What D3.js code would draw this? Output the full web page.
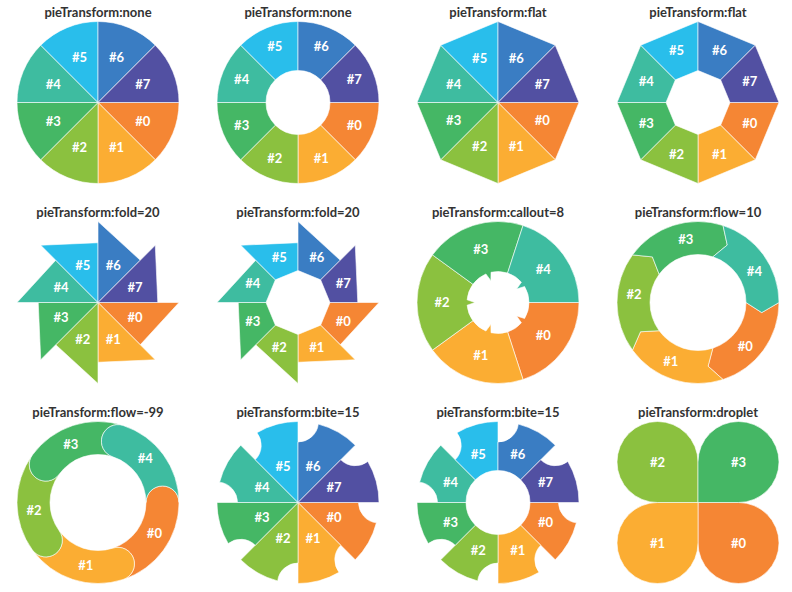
<!DOCTYPE html>
<html lang="en">
<head>
  <meta charset="UTF-8">
  <title>pieTransform</title>
  <script src="https://d3js.org/d3.v7.min.js"></script>
  <style>
    body { margin: 0; background: #fff; }
    .title { font-family: Lato, "Open Sans", sans-serif; font-weight: bold; font-size: 13px; fill: #333; text-anchor: middle; }
    .slice { stroke: #fff; stroke-opacity: 0.6; stroke-width: 1; stroke-linejoin: round; }
    .label { font-family: Lato, "Open Sans", sans-serif; font-weight: bold; font-size: 13px; fill: #fff; text-anchor: middle; }
  </style>
</head>
<body>
  <svg width="792" height="592"></svg>
  <script>
    // slice names and colours
    const categories = ["#0", "#1", "#2", "#3", "#4", "#5", "#6", "#7"];
    const palette = ["#F58634", "#FBAD33", "#8BC13F", "#45B765", "#3EBCA0", "#29BEEB", "#3A7DC3", "#5250A2"];

    // series values (all slices equal)
    const valuesEight = [1, 1, 1, 1, 1, 1, 1, 1];
    const valuesFive = [1, 1, 1, 1, 1];
    const valuesFour = [1, 1, 1, 1];

    const titles = [
      "pieTransform:none", "pieTransform:none", "pieTransform:flat", "pieTransform:flat",
      "pieTransform:fold=20", "pieTransform:fold=20", "pieTransform:callout=8", "pieTransform:flow=10",
      "pieTransform:flow=-99", "pieTransform:bite=15", "pieTransform:bite=15", "pieTransform:droplet"
    ];

    const R = 81;
    const deg = Math.PI / 180;

    // one entry per small chart: shape type, hole and label radius
    const charts = [
      { values: valuesEight, type: "none",    ri: 0,  lr: 48.5 },
      { values: valuesEight, type: "none",    ri: 32, lr: 61 },
      { values: valuesEight, type: "flat",    ri: 0,  lr: 48 },
      { values: valuesEight, type: "flat",    ri: 32, lr: 56 },
      { values: valuesEight, type: "fold",    ri: 0,  lr: 40, k: 20 },
      { values: valuesEight, type: "fold",    ri: 32, lr: 49, k: 20 },
      { values: valuesFive,  type: "callout", ri: 31, lr: 56, k: 8 },
      { values: valuesFive,  type: "flow",    ri: 48, lr: 64.5, k: 9, shift: 7 },
      { values: valuesFive,  type: "round",   ri: 48, lr: 64.5, shift: -7 },
      { values: valuesEight, type: "bite",    ri: 0,  lr: 39, k: 20.5 },
      { values: valuesEight, type: "bite",    ri: 32, lr: 51.5, k: 20.5 },
      { values: valuesFour,  type: "droplet", ri: 0,  lr: 0 }
    ];

    const svg = d3.select("svg");

    const xPos = d3.scalePoint().domain([0, 1, 2, 3]).range([98, 698]);
    const yPos = d3.scalePoint().domain([0, 1, 2]).range([102.5, 502.5]);
    const color = d3.scaleOrdinal().domain(categories).range(palette);

    const pie = d3.pie().sort(null).value(d => d)
      .startAngle(Math.PI / 2).endAngle(Math.PI / 2 + 2 * Math.PI);

    // point at d3 angle a (0 = 12 o'clock, clockwise) and radius r
    const P = (a, r) => [r * Math.sin(a), -r * Math.cos(a)].map(v => +v.toFixed(2)).join(",");

    function slicePath(c, d) {
      const a0 = d.startAngle, a1 = d.endAngle, ri = c.ri;
      const m = (a0 + a1) / 2;
      if (c.type === "none") {
        return d3.arc().innerRadius(ri).outerRadius(R)(d);
      }
      if (c.type === "flat" || c.type === "fold") {
        let r2 = R;
        if (c.type === "fold") {
          const s = a1 - a0;
          const p1 = (Math.PI - s) / 2 - c.k * deg;
          const p2 = Math.PI - s - p1;
          r2 = R * Math.sin(p1) / Math.sin(p2);
        }
        const tail = ri > 0 ? `L${P(a1, ri)}L${P(a0, ri)}` : "L0,0";
        return `M${P(a0, R)}L${P(a1, r2)}${tail}Z`;
      }
      if (c.type === "callout") {
        const w = 5 * deg;
        return `M${P(a0, R)}A${R},${R} 0 0 1 ${P(a1, R)}L${P(a1, ri)}` +
          `A${ri},${ri} 0 0 0 ${P(m + w, ri)}L${P(m, ri - c.k)}L${P(m - w, ri)}` +
          `A${ri},${ri} 0 0 0 ${P(a0, ri)}Z`;
      }
      if (c.type === "flow") {
        const t = c.k * deg, rm = (R + ri) / 2;
        return `M${P(a0, R)}A${R},${R} 0 0 1 ${P(a1, R)}L${P(a1 + t, rm)}L${P(a1, ri)}` +
          `A${ri},${ri} 0 0 0 ${P(a0, ri)}L${P(a0 + t, rm)}Z`;
      }
      if (c.type === "round") {
        const h = (R - ri) / 2;
        return `M${P(a0, R)}A${R},${R} 0 0 1 ${P(a1, R)}A${h},${h} 0 0 0 ${P(a1, ri)}` +
          `A${ri},${ri} 0 0 0 ${P(a0, ri)}A${h},${h} 0 0 1 ${P(a0, R)}Z`;
      }
      if (c.type === "bite") {
        const b = c.k, dl = 2 * Math.asin(b / (2 * R));
        const start = ri > 0 ? P(a0, ri) : "0,0";
        const tail = ri > 0 ? `L${P(a1, ri)}A${ri},${ri} 0 0 0 ${P(a0, ri)}` : "L0,0";
        return `M${start}L${P(a0, R - b)}A${b},${b} 0 0 0 ${P(a0 + dl, R)}` +
          `A${R},${R} 0 0 1 ${P(a1, R)}${tail}Z`;
      }
      if (c.type === "droplet") {
        const rho = R / 2, half = (a1 - a0) / 2;
        const dd = rho / Math.sin(half), tp = dd * Math.cos(half);
        return `M0,0L${P(a0, tp)}A${rho},${rho} 0 1 1 ${P(a1, tp)}Z`;
      }
    }

    function labelPos(c, d) {
      const m = (d.startAngle + d.endAngle) / 2 + (c.shift || 0) * deg;
      let r = c.lr;
      if (c.type === "droplet") {
        r = (R / 2) / Math.sin((d.endAngle - d.startAngle) / 2);
      }
      return [r * Math.sin(m), -r * Math.cos(m)];
    }

    charts.forEach((c, i) => {
      const cx = xPos(i % 4), cy = yPos(Math.floor(i / 4));

      svg.append("text")
        .attr("class", "title")
        .attr("x", cx)
        .attr("y", cy - 86)
        .text(titles[i]);

      const g = svg.append("g").attr("transform", `translate(${cx},${cy})`);
      const arcs = pie(c.values);

      g.selectAll(".slice")
        .data(arcs)
        .enter().append("path")
        .attr("class", "slice")
        .attr("d", d => slicePath(c, d))
        .style("fill", d => color(categories[d.index]));

      g.selectAll(".label")
        .data(arcs)
        .enter().append("text")
        .attr("class", "label")
        .attr("x", d => labelPos(c, d)[0])
        .attr("y", d => labelPos(c, d)[1])
        .attr("dy", "0.35em")
        .text(d => categories[d.index]);
    });
  </script>
</body>
</html>
